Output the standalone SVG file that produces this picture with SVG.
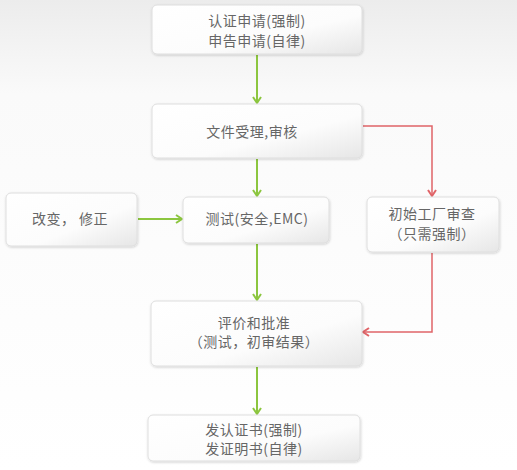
<svg xmlns="http://www.w3.org/2000/svg" width="517" height="470" viewBox="0 0 517 470">
<defs>
<linearGradient id="bg" x1="0" y1="0" x2="0" y2="1">
<stop offset="0" stop-color="#ececec"/>
<stop offset="0.2" stop-color="#fafafa"/>
<stop offset="1" stop-color="#ffffff"/>
</linearGradient>
<linearGradient id="bx" x1="0" y1="0" x2="1" y2="1">
<stop offset="0" stop-color="#ffffff"/>
<stop offset="0.6" stop-color="#fcfcfc"/>
<stop offset="1" stop-color="#e6e6e6"/>
</linearGradient>
<filter id="sh" x="-10%" y="-10%" width="120%" height="130%">
<feDropShadow dx="0.5" dy="1" stdDeviation="1" flood-color="#000" flood-opacity="0.18"/>
</filter>
<marker id="ag" viewBox="0 0 10 10" refX="8" refY="5" markerWidth="10" markerHeight="10" markerUnits="userSpaceOnUse" orient="auto">
<path d="M2,1 L8,5 L2,9" fill="none" stroke="#8cc63f" stroke-width="2"/>
</marker>
<marker id="ar" viewBox="0 0 10 10" refX="8" refY="5" markerWidth="10" markerHeight="10" markerUnits="userSpaceOnUse" orient="auto">
<path d="M2,1 L8,5 L2,9" fill="none" stroke="#e06468" stroke-width="2"/>
</marker>
</defs>
<style>
.box{fill:url(#bx);stroke:#dedede;stroke-width:1;filter:url(#sh)}
.t{font-family:"Noto Sans CJK SC","Liberation Sans",sans-serif;font-size:14px;letter-spacing:0.5px;fill:#666;text-anchor:middle;dominant-baseline:central}
.g{fill:none;stroke:#8cc63f;stroke-width:2;marker-end:url(#ag)}
.r{fill:none;stroke:#e06468;stroke-width:1.5;marker-end:url(#ar)}
</style>
<rect x="0" y="0" width="517" height="470" fill="url(#bg)"/>
<g id="connectors">
<path class="g" d="M257,55 V103"/>
<path class="g" d="M257,159 V196"/>
<path class="g" d="M138,219 H182"/>
<path class="g" d="M257,244 V300"/>
<path class="g" d="M257,367 V414"/>
<path class="r" d="M363,126 H432 V196"/>
<path class="r" d="M432,253 V332 H363"/>
</g>
<g id="n1"><rect class="box" x="152" y="5" width="210" height="49" rx="5"/>
<text class="t" x="257" y="20">认证申请(强制)</text><text class="t" x="257" y="39.5">申告申请(自律)</text></g>
<g id="n2"><rect class="box" x="152" y="104" width="210" height="54" rx="5"/>
<text class="t" x="252" y="131">文件受理,审核</text></g>
<g id="n3"><rect class="box" x="6" y="193" width="131" height="53" rx="5"/>
<text class="t" x="70" y="218">改变， 修正</text></g>
<g id="n4"><rect class="box" x="183" y="197" width="146" height="46" rx="5"/>
<text class="t" x="257" y="218">测试(安全,EMC)</text></g>
<g id="n5"><rect class="box" x="367" y="197" width="132" height="55" rx="5"/>
<text class="t" x="432" y="213">初始工厂审查</text><text class="t" x="432" y="233">（只需强制）</text></g>
<g id="n6"><rect class="box" x="151" y="301" width="211" height="65" rx="5"/>
<text class="t" x="254" y="322">评价和批准</text><text class="t" x="254" y="341">（测试，初审结果）</text></g>
<g id="n7"><rect class="box" x="148" y="415" width="212" height="46" rx="5"/>
<text class="t" x="254" y="428.5">发认证书(强制)</text><text class="t" x="254" y="448">发证明书(自律)</text></g>
</svg>
